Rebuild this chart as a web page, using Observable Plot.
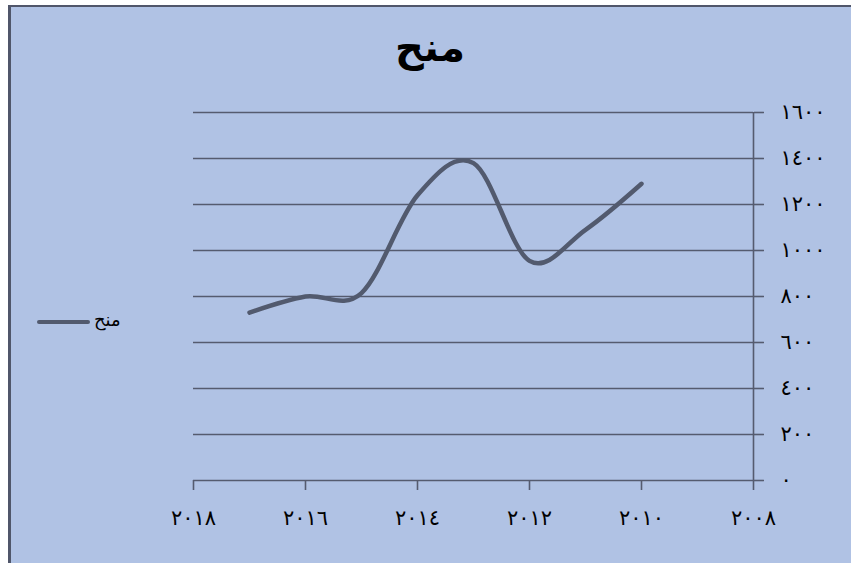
<!DOCTYPE html>
<html>
<head>
<meta charset="utf-8">
<script src="https://cdn.jsdelivr.net/npm/d3@7"></script>
<script src="https://cdn.jsdelivr.net/npm/@observablehq/plot@0.6"></script>
<style>
  html, body { margin: 0; padding: 0; background: #ffffff; }
  #page { position: relative; width: 851px; height: 563px; overflow: hidden; }
  #bg { position: absolute; left: 8px; top: 5px; width: 860px; height: 570px;
        background: #b0c2e4; border-left: 3px solid #50566a; border-top: 2px solid #50566a; }
  #chart { position: absolute; left: 0; top: 0; }
  #title { position: absolute; left: 330px; width: 200px; top: 24px; text-align: center;
           font-family: "DejaVu Sans"; font-weight: bold; font-size: 40px; color: #000; direction: rtl; }
  #legend-line { position: absolute; left: 37px; top: 320px; width: 53px; height: 4px;
                 background: #525a6e; border-radius: 2px; }
  #legend-text { position: absolute; left: 94px; top: 309px; font-family: "DejaVu Sans";
                 font-size: 18px; color: #000; direction: rtl; }
  g[aria-label="y-axis tick label"] text { letter-spacing: 4px; }
  g[aria-label="x-axis tick label"] text { letter-spacing: 5px; }
</style>
</head>
<body>
<div id="page">
  <div id="bg"></div>
  <div id="chart"></div>
  <div id="title">منح</div>
  <div id="legend-line"></div>
  <div id="legend-text">منح</div>
</div>
<script>
const seriesName = "منح";
const years = [2017, 2016, 2015, 2014, 2013, 2012, 2011, 2010];
const values = [730, 800, 815, 1240, 1380, 955, 1090, 1290];
const xTicks = [2018, 2016, 2014, 2012, 2010, 2008];
const yTicks = [0, 200, 400, 600, 800, 1000, 1200, 1400, 1600];

const arDigits = "٠١٢٣٤٥٦٧٨٩";
const ar = d => String(d).replace(/[0-9]/g, c => arDigits[+c]);

const data = years.map((y, i) => ({year: y, value: values[i]}));
const ink = "#555b6f";

const chart = Plot.plot({
  width: 851,
  height: 563,
  marginLeft: 193,
  marginRight: 98,
  marginTop: 112,
  marginBottom: 83,
  style: {background: "transparent", fontFamily: "DejaVu Sans", fontSize: "21px", color: "#000", overflow: "visible"},
  x: {domain: [2018, 2008]},
  y: {domain: [0, 1600]},
  marks: [
    Plot.gridY(yTicks.filter(d => d > 0), {stroke: ink, strokeOpacity: 1, strokeWidth: 1.6}),
    Plot.ruleY([0], {stroke: ink, strokeWidth: 1.6}),
    Plot.ruleX([2008], {stroke: ink, strokeWidth: 1.6}),
    Plot.axisX({ticks: xTicks, tickFormat: ar, tickSize: 10, tickPadding: 20, stroke: ink, strokeWidth: 1.6, label: null, fill: "#000"}),
    Plot.axisY({ticks: yTicks, tickFormat: ar, anchor: "right", tickSize: 10, tickPadding: 17, textAnchor: "start", stroke: ink, strokeWidth: 1.6, label: null, fill: "#000"}),
    Plot.line(data, {x: "year", y: "value", curve: "cardinal", stroke: "#525a6e", strokeWidth: 4.5, strokeLinecap: "round", strokeLinejoin: "round"})
  ]
});
document.getElementById("chart").appendChild(chart);
</script>
</body>
</html>
